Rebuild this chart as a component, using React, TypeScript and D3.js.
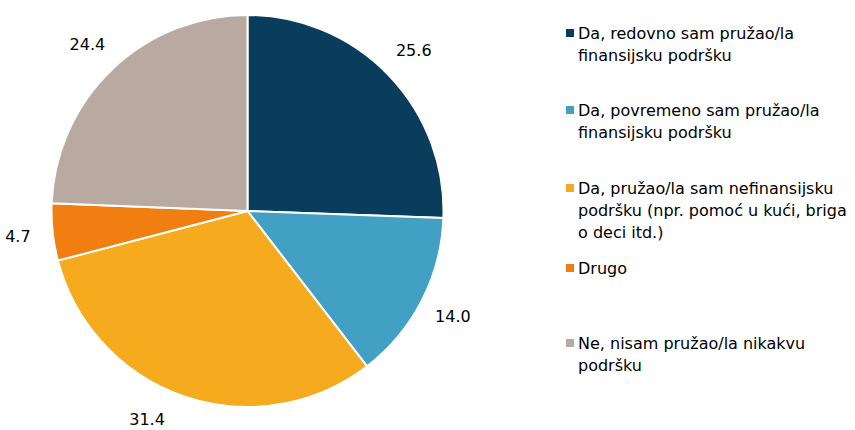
import React from "react";
import * as d3 from "d3";

const categories = [
  "Da, redovno sam pružao/la finansijsku podršku",
  "Da, povremeno sam pružao/la finansijsku podršku",
  "Da, pružao/la sam nefinansijsku podršku (npr. pomoć u kući, briga o deci itd.)",
  "Drugo",
  "Ne, nisam pružao/la nikakvu podršku",
];
const legendLines = [
  ["Da, redovno sam pružao/la", "finansijsku podršku"],
  ["Da, povremeno sam pružao/la", "finansijsku podršku"],
  ["Da, pružao/la sam nefinansijsku", "podršku (npr. pomoć u kući, briga", "o deci itd.)"],
  ["Drugo"],
  ["Ne, nisam pružao/la nikakvu", "podršku"],
];
const values = [25.6, 14.0, 31.4, 4.7, 24.4];
const colors = ["#0a3d5b", "#41a0c3", "#f6ab1e", "#f07e10", "#b9aaa1"];

const W = 855;
const H = 430;
const cx = 247.5;
const cy = 211;
const R = 196;
const labelR = 231;
const font = "'DejaVu Sans', Verdana, sans-serif";

export default function App() {
  const pie = d3.pie<number>().sort(null).value((d) => d)(values);
  const arc = d3.arc<d3.PieArcDatum<number>>().innerRadius(0).outerRadius(R);
  const legendY = [33, 110, 188, 268, 343];
  const lineH = 22;
  const maxY = H - 11 - cy;
  return (
    <svg width={W} height={H} style={{ position: "absolute", left: 0, top: 0 }}>
      <rect width={W} height={H} fill="#fff" />
      <g transform={`translate(${cx},${cy})`}>
        {pie.map((p, i) => (
          <path key={i} d={arc(p) || ""} fill={colors[i]} stroke="#fff" strokeWidth={2} />
        ))}
        {pie.map((p, i) => {
          const a = (p.startAngle + p.endAngle) / 2;
          let x = Math.sin(a) * labelR;
          let y = -Math.cos(a) * labelR;
          if (y > maxY) {
            y = maxY;
            x = Math.sign(x) * Math.sqrt(labelR * labelR - y * y);
          }
          return (
            <text key={i} x={x} y={y} dy="0.35em" textAnchor="middle" fontFamily={font} fontSize={16} fill="#000">
              {values[i].toFixed(1)}
            </text>
          );
        })}
      </g>
      {legendLines.map((lines, i) => (
        <g key={i} transform={`translate(566,${legendY[i]})`}>
          <title>{categories[i]}</title>
          <rect x={0} y={-4} width={8} height={8} fill={colors[i]} />
          {lines.map((l, j) => (
            <text key={j} x={12} y={j * lineH} dy="0.35em" fontFamily={font} fontSize={16} fill="#000">
              {l}
            </text>
          ))}
        </g>
      ))}
    </svg>
  );
}
